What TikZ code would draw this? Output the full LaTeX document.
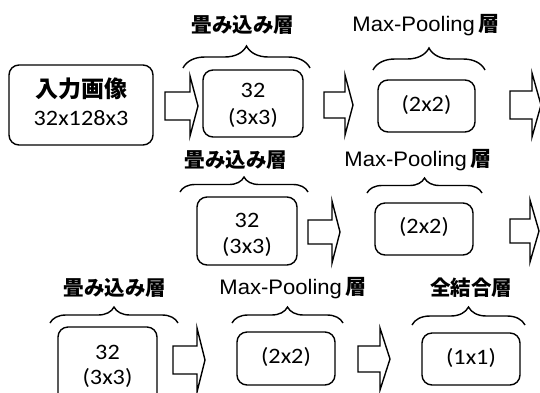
\documentclass[tikz,border=0pt]{standalone}
\usepackage{fontspec}
\setmainfont{Carlito}
\newfontfamily\jp{Noto Sans CJK JP}
\newfontfamily\arialf{Liberation Sans}
\usetikzlibrary{decorations.pathreplacing}
\newcommand\sx[1]{\scalebox{1.1}[1]{#1}}
\newcommand\fatarrow[6]{%
  \draw[arr] (#1,#4-#5) -- (#2,#4-#5) -- (#2,#4-#6) -- (#3,#4) -- (#2,#4+#6) -- (#2,#4+#5) -- (#1,#4+#5) -- cycle;}
\tikzset{
  box/.style={draw, line width=1.4pt, rounded corners=10pt, inner sep=0pt},
  txt/.style={inner sep=0pt, font=\fontsize{22}{22}\selectfont},
  jtxt/.style={inner sep=0pt, font=\jp\bfseries\fontsize{20.5}{20.5}\selectfont},
  mtxt/.style={inner sep=0pt, font=\arialf\fontsize{21}{21}\selectfont},
  arr/.style={draw, line width=1.4pt, fill=white, line join=miter},
  brc/.style={draw, line width=1.4pt, decorate, decoration={brace, amplitude=#1}},
}
\begin{document}
\begin{tikzpicture}[x=1pt, y=-1pt]
\clip (0,0) rectangle (540,392);
\fill[white] (0,0) rectangle (540,392);

% ---------- row 1 ----------
\node[box, minimum width=144pt, minimum height=80pt] (in) at (81,105) {};
\node[inner sep=0pt, font=\jp\bfseries\fontsize{23}{23}\selectfont] (inA) at (81,89) {入力画像};
\node[txt] (inB) at (81,118) {\sx{32x128x3}};

\fatarrow{165}{190}{198}{106}{14}{30}

\node[box, minimum width=100pt, minimum height=67pt] (c1) at (253,103.5) {};
\node[txt] (c1a) at (253,90) {\sx{32}};
\node[txt] (c1b) at (253,118) {\sx{(3x3)}};
\draw[brc=22pt] (183,68) -- (310,68);
\node[jtxt] (l1) at (243,25) {畳み込み層};

\fatarrow{324}{345}{353}{105}{13}{30}

\node[box, minimum width=97pt, minimum height=52pt] (p1) at (426.5,106) {};
\node[txt] (p1a) at (426.5,105) {\sx{(2x2)}};
\draw[brc=22pt] (373,70) -- (485,70);
\node[mtxt] (l2) at (426,25) {\scalebox{1.05}[1]{Max-Pooling}\,{\jp\bfseries 層}};

\fatarrow{510}{532}{541}{105}{14}{32}

% ---------- row 2 ----------
\node[box, minimum width=100pt, minimum height=68pt] (c2) at (247,231) {};
\node[txt] (c2a) at (247,220) {\sx{32}};
\node[txt] (c2b) at (247,247) {\sx{(3x3)}};
\draw[brc=15pt] (180,192) -- (308,192);
\node[jtxt] (l3) at (236,160) {畳み込み層};

\fatarrow{308}{332}{340}{232}{12}{31}

\node[box, minimum width=98pt, minimum height=52pt] (p2) at (424,229) {};
\node[txt] (p2a) at (424,227) {\sx{(2x2)}};
\draw[brc=15pt] (367,193) -- (482,193);
\node[mtxt] (l4) at (418,160) {\scalebox{1.05}[1]{Max-Pooling}\,{\jp\bfseries 層}};

\fatarrow{510}{530}{539}{231}{12}{31}

% ---------- row 3 ----------
\node[box, minimum width=99pt, minimum height=76pt] (c3) at (107.5,365) {};
\node[txt] (c3a) at (107.5,352) {\sx{32}};
\node[txt] (c3b) at (107.5,378) {\sx{(3x3)}};
\draw[brc=16pt] (50,323) -- (178,323);
\node[jtxt] (l5) at (115,288) {畳み込み層};

\fatarrow{173}{197}{205}{360}{14}{32}

\node[box, minimum width=98pt, minimum height=53pt] (p3) at (286,358.5) {};
\node[txt] (p3a) at (286,357) {\sx{(2x2)}};
\draw[brc=16pt] (232,323) -- (343,323);
\node[mtxt] (l6) at (293,288) {\scalebox{1.05}[1]{Max-Pooling}\,{\jp\bfseries 層}};

\fatarrow{358}{380}{390}{359}{13}{31}

\node[box, minimum width=98pt, minimum height=52pt] (fc) at (471,359) {};
\node[txt] (fca) at (471,358) {\sx{(1x1)}};
\draw[brc=18pt] (412,325) -- (525,325);
\node[jtxt] (l7) at (471,288) {全結合層};
\end{tikzpicture}
\end{document}
